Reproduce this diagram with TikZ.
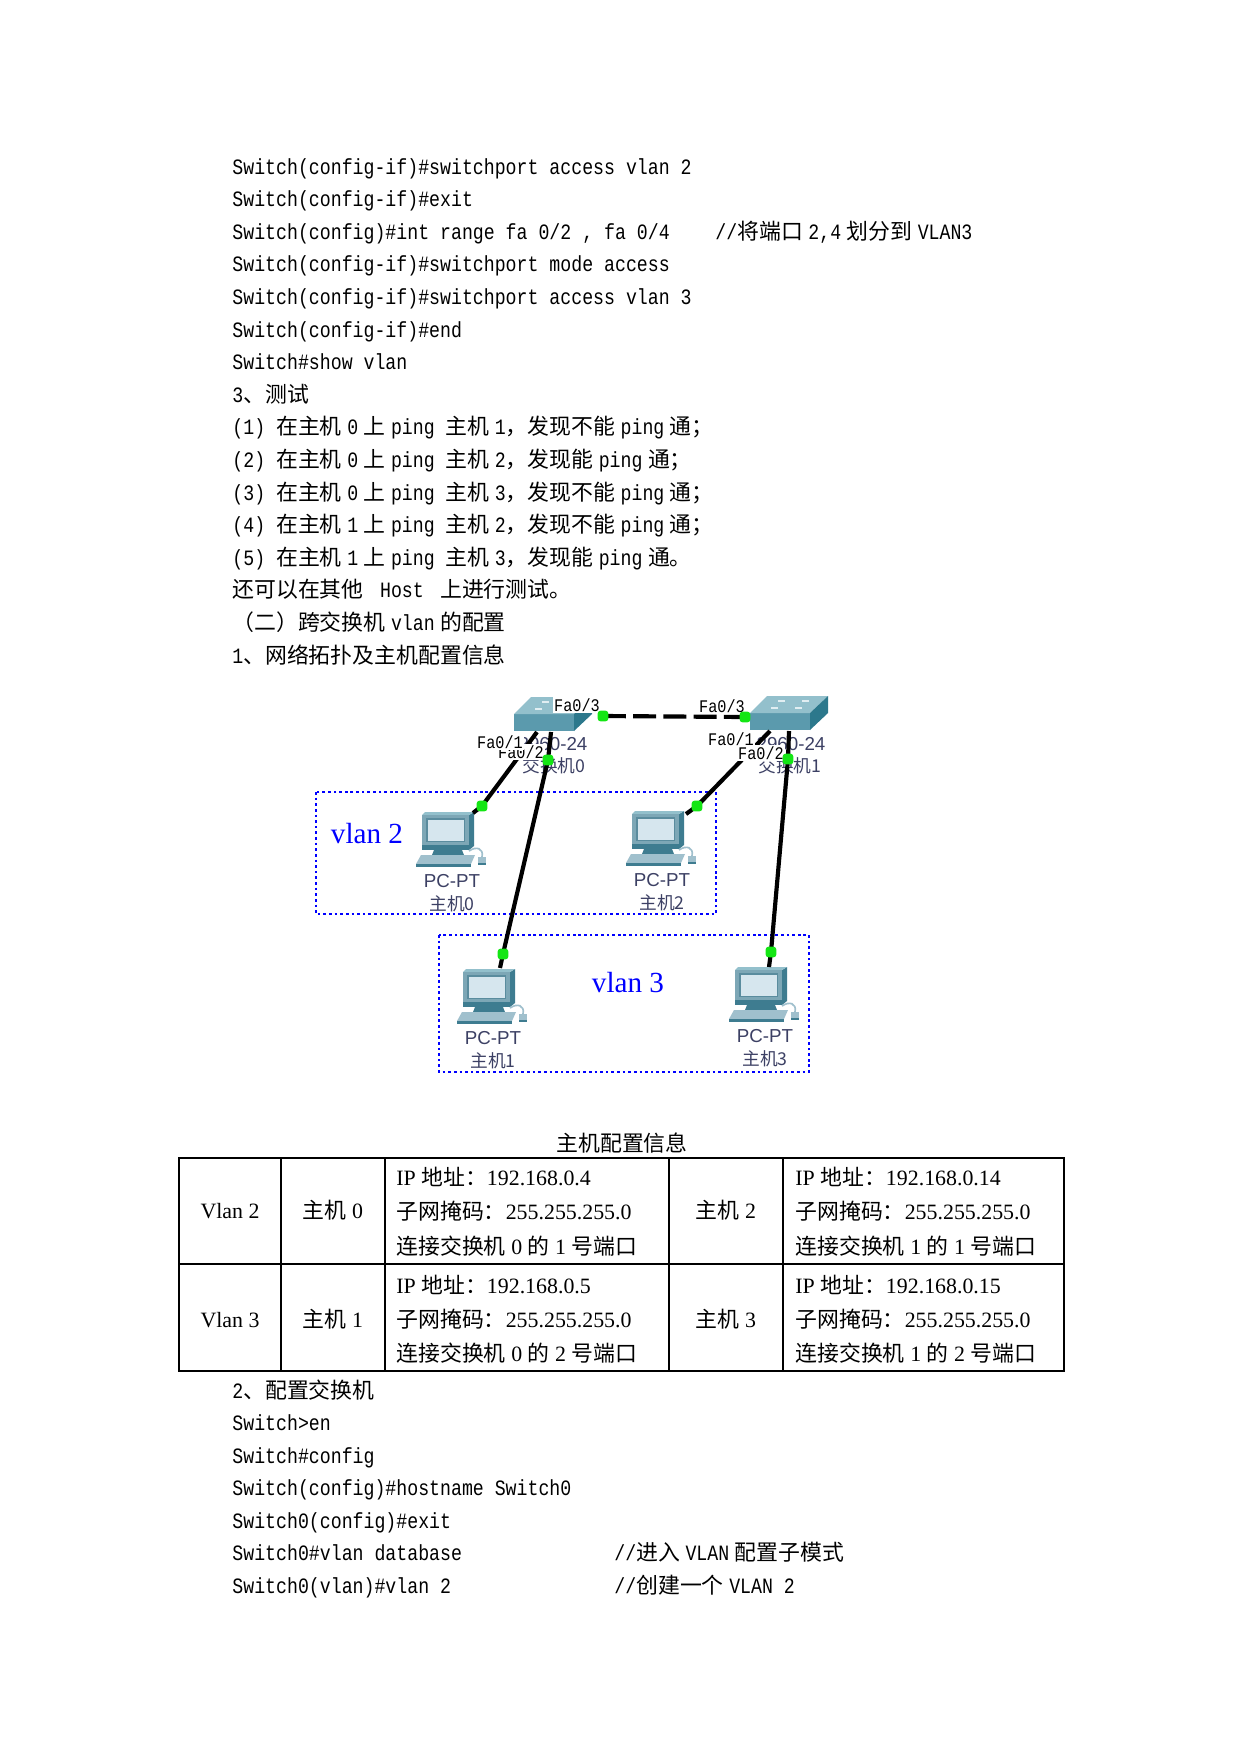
\documentclass[tikz,border=0pt]{standalone}
\usepackage{fontspec}
\setmainfont{Liberation Serif}
\newfontfamily\zh{Noto Sans CJK SC}
\newfontfamily\cmono{Liberation Mono}[FakeStretch=0.833]
\newfontfamily\pmono{Liberation Mono}[FakeStretch=0.86]
\newfontfamily\psans{Liberation Sans}
\newcommand\cg{\hspace{0.25em}}
\newcommand\tg{\hspace{0.25em}}
\definecolor{ledgreen}{RGB}{20,230,20}
\definecolor{devtext}{RGB}{60,64,100}
\definecolor{swfront}{RGB}{91,154,173}
\definecolor{swtop}{RGB}{147,192,204}
\definecolor{swside}{RGB}{44,120,140}
\definecolor{swmark}{RGB}{225,238,242}
\definecolor{pcbezel}{RGB}{125,167,182}
\definecolor{pcside}{RGB}{62,124,144}
\definecolor{pcscreen}{RGB}{214,230,238}
\definecolor{pcsborder}{RGB}{90,140,158}
\definecolor{pckey}{RGB}{160,192,205}
\begin{document}
\begin{tikzpicture}[x=0.48pt,y=-0.48pt,
  code/.style={anchor=base west, inner sep=0pt, font=\cmono\fontsize{10.5pt}{12pt}\selectfont},
  cell/.style={anchor=base west, inner sep=0pt, font=\fontsize{10.5pt}{12pt}\selectfont},
  cellc/.style={anchor=base, inner sep=0pt, font=\fontsize{10.5pt}{12pt}\selectfont},
  zhcap/.style={anchor=base, inner sep=0pt, font=\zh\fontsize{10.5pt}{12pt}\selectfont},
  port/.style={fill=white, inner sep=0.6pt, font=\pmono\fontsize{8.5pt}{9pt}\selectfont},
  swlbl/.style={inner sep=0pt, text=devtext, font=\psans\fontsize{9pt}{10pt}\selectfont},
  swzh/.style={inner sep=0pt, text=devtext, font=\zh\fontsize{8.5pt}{10pt}\selectfont},
  vlanbox/.style={draw=blue, line width=1.4pt, dash pattern=on 1.3pt off 1.4pt},
  vlantxt/.style={anchor=base, text=blue, inner sep=0pt, font=\fontsize{14pt}{16pt}\selectfont},
  cable/.style={line width=2pt, black, line join=round},
  trunk/.style={line width=2pt, black, dash pattern=on 11pt off 3.5pt},
  led/.style={fill=ledgreen, rounded corners=1.5pt, minimum size=5.2pt, inner sep=0pt},
  tbl/.style={line width=0.7pt, black},
  switchicon/.pic={
    \fill[swfront] (0,0) rectangle (60,17);
    \fill[swtop] (0,0) -- (60,0) -- (78,-17) -- (17,-17) -- cycle;
    \fill[swside] (60,0) -- (78,-17) -- (78,0) -- (60,17) -- cycle;
    \draw[swmark, line width=0.9pt] (28,-12) -- (35,-12) (52,-12) -- (59,-12) (21,-5) -- (28,-5) (45,-5) -- (52,-5);
  },
  pcicon/.pic={
    \fill[pcside] (15,2) -- (20,-1) -- (20,33) -- (15,37) -- cycle;
    \fill[swtop] (-32,2) -- (-29,-1) -- (20,-1) -- (15,2) -- cycle;
    \fill[pcbezel] (-32,2) rectangle (15,37);
    \fill[pcsborder] (-28,5) rectangle (11,29);
    \fill[pcscreen] (-26.5,6.5) rectangle (9.5,27.5);
    \fill[pcside] (-32,32) rectangle (15,37);
    \fill[pcside] (-20,37) -- (8,37) -- (10,42) -- (-22,42) -- cycle;
    \fill[pckey] (-33,42) -- (21,42) -- (17,51) -- (-38,51) -- cycle;
    \fill[pcside] (-38,51) rectangle (17,54);
    \draw[pckey, line width=0.8pt] (15,38) .. controls (22,33) and (30,35) .. (28,44);
    \fill[pckey] (24,44) rectangle (32,50);
    \fill[pcside] (24,50) rectangle (32,52);
  }]
\fill[white] (0,0) rectangle (1241,1754);
\useasboundingbox (0,0) rectangle (1241,1754);

% ---------- upper text ----------
\node[code] (t0) at (232,174) {Switch(config-if)\#switchport access vlan 2};
\node[code] (t1) at (232,206.6) {Switch(config-if)\#exit};
\node[code] (t2) at (232,239.2) {Switch(config)\#int range fa 0/2 , fa 0/4};
\node[code] (t2c) at (715,239.2) {//{\zh 将端口}\cg 2,4\cg{\zh 划分到}\cg VLAN3};
\node[code] (t3) at (232,271.8) {Switch(config-if)\#switchport mode access};
\node[code] (t4) at (232,304.4) {Switch(config-if)\#switchport access vlan 3};
\node[code] (t5) at (232,337) {Switch(config-if)\#end};
\node[code] (t6) at (232,369.6) {Switch\#show vlan};
\node[code] (t7) at (232,402.2) {3{\zh 、测试}};
\node[code] (t8) at (232,434.8) {(1) {\zh 在主机}\cg 0\cg{\zh 上}\cg ping {\zh 主机}\cg 1{\zh ，发现不能}\cg ping\cg{\zh 通；}};
\node[code] (t9) at (232,467.4) {(2) {\zh 在主机}\cg 0\cg{\zh 上}\cg ping {\zh 主机}\cg 2{\zh ，发现能}\cg ping\cg{\zh 通；}};
\node[code] (t10) at (232,500) {(3) {\zh 在主机}\cg 0\cg{\zh 上}\cg ping {\zh 主机}\cg 3{\zh ，发现不能}\cg ping\cg{\zh 通；}};
\node[code] (t11) at (232,532.6) {(4) {\zh 在主机}\cg 1\cg{\zh 上}\cg ping {\zh 主机}\cg 2{\zh ，发现不能}\cg ping\cg{\zh 通；}};
\node[code] (t12) at (232,565.2) {(5) {\zh 在主机}\cg 1\cg{\zh 上}\cg ping {\zh 主机}\cg 3{\zh ，发现能}\cg ping\cg{\zh 通。}};
\node[code] (t13) at (232,597.8) {{\zh 还可以在其他}\cg\ Host\ \cg{\zh 上进行测试。}};
\node[code] (t14) at (232,630.4) {{\zh （二）跨交换机}\cg vlan\cg{\zh 的配置}};
\node[code] (t15) at (232,663) {1{\zh 、网络拓扑及主机配置信息}};

% ---------- topology ----------
\draw[vlanbox] (316,792) rectangle (716,914);
\draw[vlanbox] (439,935) rectangle (809,1072);
\node[vlantxt] (v2) at (367,843) {vlan 2};
\node[vlantxt] (v3) at (628,992) {vlan 3};

\node[swlbl] (m0) at (553,744) {2960-24};
\node[swzh] (n0) at (554,766) {交换机0};
\node[swlbl] (m1) at (791,744) {2960-24};
\node[swzh] (n1) at (790,766) {交换机1};

\pic (sw0) at (514,714) {switchicon};
\pic (sw1) at (750,713) {switchicon};

\pic (pc0) at (454,813) {pcicon};
\pic (pc2) at (664,812) {pcicon};
\pic (pc1) at (495,970) {pcicon};
\pic (pc3) at (767,968) {pcicon};

\node[swlbl] (pt0) at (452,881) {PC-PT};
\node[swzh] (h0) at (452,904) {主机0};
\node[swlbl] (pt2) at (662,880) {PC-PT};
\node[swzh] (h2) at (662,903) {主机2};
\node[swlbl] (pt1) at (493,1038) {PC-PT};
\node[swzh] (h1) at (493,1061) {主机1};
\node[swlbl] (pt3) at (765,1036) {PC-PT};
\node[swzh] (h3) at (765,1059) {主机3};

\coordinate (s0p1) at (537,732);
\coordinate (s0p2) at (551,732);
\coordinate (s1p1) at (770,731);
\coordinate (s1p2) at (789,731);
\coordinate (pc0a) at (473,813);
\coordinate (pc2a) at (686,814);
\coordinate (pc1a) at (500,968);
\coordinate (pc3a) at (769,967);

\coordinate (d03) at (603,716);
\coordinate (d13) at (745,717);
\coordinate (d02) at (548,760);
\coordinate (d12) at (788,759);
\coordinate (dp0) at (482,806);
\coordinate (dp2) at (697,806);
\coordinate (dp1) at (503,954);
\coordinate (dp3) at (771,952);

\draw[cable] (s0p1) -- (dp0) -- (pc0a);
\draw[cable] (s0p2) -- (d02) -- (dp1) -- (pc1a);
\draw[cable] (s1p1) -- (dp2) -- (pc2a);
\draw[cable] (s1p2) -- (d12) -- (dp3) -- (pc3a);
\draw[trunk] (d03) -- (d13);

\node[port] (f03) at (577,705) {Fa0/3};
\node[port] (f13) at (722,706) {Fa0/3};
\node[port] (f02) at (521,752) {Fa0/2};
\node[port] (f01) at (500,742) {Fa0/1};
\node[port] (f12) at (761,753) {Fa0/2};
\node[port] (f11) at (731,739) {Fa0/1};

\node[led] (l03) at (d03) {};
\node[led] (l13) at (d13) {};
\node[led] (l02) at (d02) {};
\node[led] (l12) at (d12) {};
\node[led] (lp0) at (dp0) {};
\node[led] (lp2) at (dp2) {};
\node[led] (lp1) at (dp1) {};
\node[led] (lp3) at (dp3) {};

% ---------- table ----------
\node[zhcap] (cap) at (622,1151) {主机配置信息};
\draw[tbl] (179,1158) rectangle (1064,1371);
\draw[tbl] (179,1264) -- (1064,1264);
\draw[tbl] (281,1158) -- (281,1371);
\draw[tbl] (385,1158) -- (385,1371);
\draw[tbl] (669,1158) -- (669,1371);
\draw[tbl] (783,1158) -- (783,1371);

\node[cellc] (c11) at (230,1218) {Vlan 2};
\node[cellc] (c12) at (333,1218) {{\zh 主机}\tg 0};
\node[cell] (c13a) at (396,1185) {IP\tg{\zh 地址：}192.168.0.4};
\node[cell] (c13b) at (396,1219) {{\zh 子网掩码：}255.255.255.0};
\node[cell] (c13c) at (396,1254) {{\zh 连接交换机}\tg 0\tg{\zh 的}\tg 1\tg{\zh 号端口}};
\node[cellc] (c14) at (726,1218) {{\zh 主机}\tg 2};
\node[cell] (c15a) at (795,1185) {IP\tg{\zh 地址：}192.168.0.14};
\node[cell] (c15b) at (795,1219) {{\zh 子网掩码：}255.255.255.0};
\node[cell] (c15c) at (795,1254) {{\zh 连接交换机}\tg 1\tg{\zh 的}\tg 1\tg{\zh 号端口}};

\node[cellc] (c21) at (230,1327) {Vlan 3};
\node[cellc] (c22) at (333,1327) {{\zh 主机}\tg 1};
\node[cell] (c23a) at (396,1293) {IP\tg{\zh 地址：}192.168.0.5};
\node[cell] (c23b) at (396,1327) {{\zh 子网掩码：}255.255.255.0};
\node[cell] (c23c) at (396,1361) {{\zh 连接交换机}\tg 0\tg{\zh 的}\tg 2\tg{\zh 号端口}};
\node[cellc] (c24) at (726,1327) {{\zh 主机}\tg 3};
\node[cell] (c25a) at (795,1293) {IP\tg{\zh 地址：}192.168.0.15};
\node[cell] (c25b) at (795,1327) {{\zh 子网掩码：}255.255.255.0};
\node[cell] (c25c) at (795,1361) {{\zh 连接交换机}\tg 1\tg{\zh 的}\tg 2\tg{\zh 号端口}};

% ---------- lower text ----------
\node[code] (b0) at (232,1398) {2{\zh 、配置交换机}};
\node[code] (b1) at (232,1430.5) {Switch>en};
\node[code] (b2) at (232,1463) {Switch\#config};
\node[code] (b3) at (232,1495.5) {Switch(config)\#hostname Switch0};
\node[code] (b4) at (232,1528) {Switch0(config)\#exit};
\node[code] (b5) at (232,1560.5) {Switch0\#vlan database};
\node[code] (b5c) at (614,1560.5) {//{\zh 进入}\cg VLAN\cg{\zh 配置子模式}};
\node[code] (b6) at (232,1593) {Switch0(vlan)\#vlan 2};
\node[code] (b6c) at (614,1593) {//{\zh 创建一个}\cg VLAN 2};
\end{tikzpicture}
\end{document}
